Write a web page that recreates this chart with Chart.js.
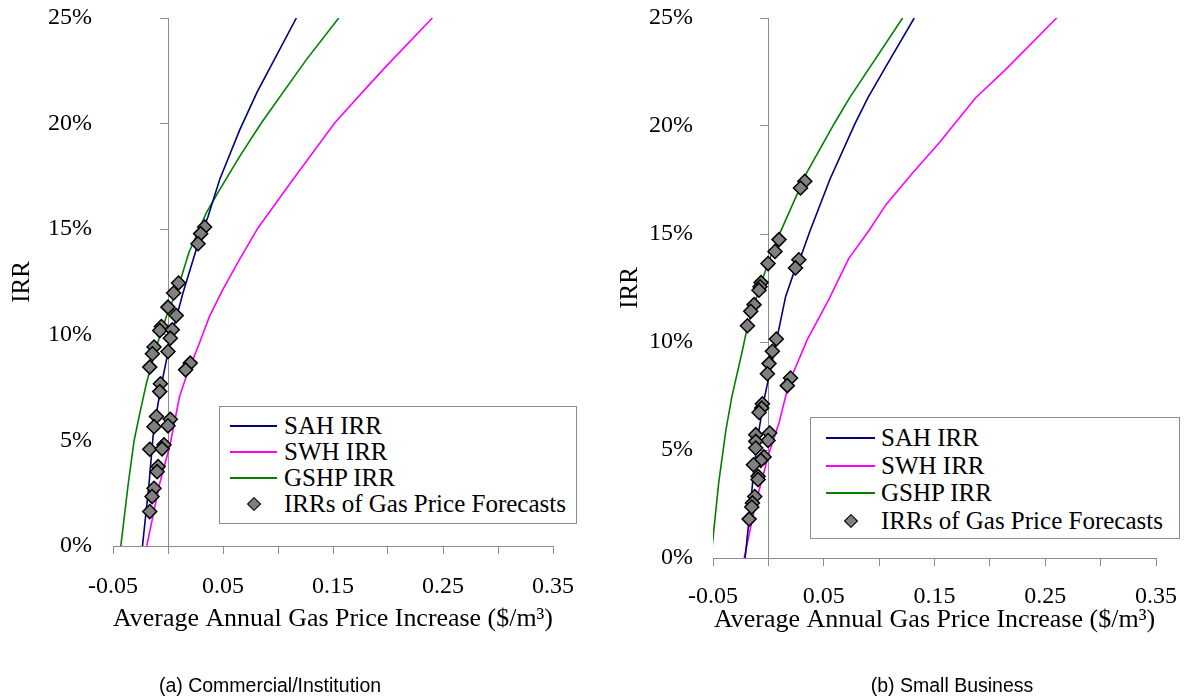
<!DOCTYPE html>
<html>
<head>
<meta charset="utf-8">
<title>IRR vs gas price increase</title>
<script src="https://cdn.jsdelivr.net/npm/chart.js@4.4.1/dist/chart.umd.min.js"></script>
<style>
  html, body { margin: 0; padding: 0; background: #fff; }
  #wrap { position: relative; width: 1193px; height: 698px; overflow: hidden; }
  .panel { position: absolute; top: 0; height: 698px; }
  .legend { position: absolute; border: 1px solid #8c8c8c; background: #fff; box-sizing: border-box; }
  .legend .row { position: absolute; left: 0; right: 0; height: 28px; }
  .legend .swatch { position: absolute; top: 13px; height: 2px; }
  .legend .diamond { position: absolute; top: 9px; width: 10px; height: 10px; background: #808080;
                     border: 1.5px solid #000; box-sizing: border-box; transform: rotate(45deg); }
  .legend .txt { position: absolute; top: 0; line-height: 28px; font: 25px "Liberation Serif", "Times New Roman", serif; color: #000; white-space: nowrap; }
  .caption { position: absolute; font: 19.5px "Liberation Sans", Arial, sans-serif; color: #000; white-space: nowrap; transform: translateX(-50%); }
</style>
</head>
<body>
<div id="wrap">
  <div class="panel" style="left:0;width:596px"><canvas id="chartA" width="596" height="698"></canvas></div>
  <div class="panel" style="left:596px;width:597px"><canvas id="chartB" width="597" height="698"></canvas></div>
  <div id="legendA" class="legend"></div>
  <div id="legendB" class="legend"></div>
  <div class="caption" style="left:270px;top:674px">(a) Commercial/Institution</div>
  <div class="caption" style="left:952px;top:674px">(b) Small Business</div>
</div>
<script>
// points are [average annual gas price increase ($/m³), IRR %]

// (a) Commercial/Institution
const sahA  = [[-0.0232,0],[-0.0172,2.97],[-0.0136,5.18],[-0.009,6.76],[-0.0045,8.02],[0.003,9.92],[0.0136,11.98],
               [0.0256,14.03],[0.0364,15.6],[0.047,17.35],[0.0652,19.7],[0.0809,21.48],[0.1167,25]];
const swhA  = [[-0.0193,0],[-0.0075,2.97],[0.0015,4.71],[0.0105,7.08],[0.0166,8.02],[0.0286,9.61],[0.0377,10.87],
               [0.0497,12.13],[0.0648,13.55],[0.0818,15.06],[0.1136,17.35],[0.1515,20.03],[0.1803,21.69],[0.1985,22.72],[0.2403,25]];
const gshpA = [[-0.0429,0],[-0.0361,2.97],[-0.0307,5.02],[-0.0256,6.29],[-0.0196,7.71],[-0.0105,9.45],[-0.0015,10.87],
               [0.0105,12.45],[0.019,13.9],[0.0348,15.77],[0.047,16.87],[0.0652,18.45],[0.0848,20.03],[0.1258,23.03],[0.1552,25]];
const fcA   = [[0.0333,15.1],[0.0297,14.79],[0.0273,14.31],[0.0096,12.45],[0.0051,11.98],[0,11.31],[0.0075,10.91],
               [-0.006,10.39],[-0.0075,10.2],[0.0039,10.24],[0.0021,9.84],[-0.0127,9.42],[-0.0142,9.1],[0,9.21],
               [-0.0166,8.47],[0.0202,8.66],[0.016,8.34],[-0.0069,7.68],[-0.0075,7.31],[-0.0105,6.13],[-0.0127,5.65],
               [0.0021,6.0],[0,5.69],[-0.0166,4.58],[-0.0036,4.79],[-0.0054,4.6],[-0.009,3.76],[-0.0099,3.52],
               [-0.0127,2.73],[-0.0145,2.34],[-0.0166,1.63]];

// (b) Small Business
const sahB  = [[-0.021,0],[-0.0159,2.55],[-0.0129,4.24],[-0.0084,5.94],[-0.0039,7.33],[0.0006,8.41],[0.0081,10.26],
               [0.0156,12.11],[0.0245,13.43],[0.0303,14.1],[0.0374,15.12],[0.0554,17.51],[0.0778,20.06],[0.0898,21.3],
               [0.1062,22.76],[0.1317,25]];
const swhB  = [[-0.0218,0],[-0.0114,2.55],[0.0006,4.86],[0.0096,6.25],[0.0186,8.1],[0.035,10.1],[0.0545,11.96],
               [0.0724,13.85],[0.0913,15.2],[0.1062,16.36],[0.1302,17.82],[0.1541,19.21],[0.187,21.3],[0.2139,22.6],[0.2603,25]];
const gshpB = [[-0.0518,0],[-0.0449,3.47],[-0.0383,5.94],[-0.0329,7.48],[-0.0233,9.64],[-0.0189,10.72],[-0.0114,11.96],
               [-0.0024,13.35],[0.003,14.1],[0.0105,15.05],[0.0344,17.82],[0.0598,20.14],[0.0733,21.3],[0.1212,25]];
const fcB   = [[0.0329,17.44],[0.029,17.13],[0.0096,14.74],[0.006,14.19],[-0.0003,13.63],[-0.0066,12.75],[-0.0075,12.56],
               [-0.0085,12.4],[-0.0129,11.73],[-0.0159,11.42],[-0.0189,10.75],[0.0275,13.81],[0.0245,13.43],[0.0072,10.14],
               [0.0036,9.57],[0.0006,9.0],[-0.0009,8.53],[0.02,8.33],[0.0171,7.98],[-0.0054,7.14],[-0.006,6.94],
               [-0.0084,6.74],[-0.0114,5.71],[0.0012,5.79],[-0.0003,5.44],[-0.0114,5.4],[-0.0114,5.09],[-0.0039,4.68],
               [-0.0069,4.52],[-0.0135,4.32],[-0.0093,3.78],[-0.0093,3.63],[-0.0123,2.85],[-0.0144,2.55],[-0.015,2.36],
               [-0.0174,1.8]];

const seriesNames = ['SAH IRR', 'SWH IRR', 'GSHP IRR', 'IRRs of Gas Price Forecasts'];
const xMin = -0.05, xMax = 0.35, xStep = 0.05;
const yMin = 0, yMax = 25, yStep = 5;
const xTitle = 'Average Annual Gas Price Increase ($/m\u00B3)';
const yTitle = 'IRR';

const C = { sah: '#000080', swh: '#ff00ff', gshp: '#008000', marker: '#808080', axis: '#8c8c8c', ink: '#000' };
const SERIF = '"Liberation Serif", "Times New Roman", serif';

// each panel has its own plot box
// yLabelGap: space between the % labels and the plot (hidden tick length, so it doesn't pad the top)
const geomA = { padRight: 43, padTop: 18, yAxisW: 113, xAxisH: 152, yLabelGap: 21, yTitlePad: 7, xTickPad: 18, xTitlePad: 63 };
const geomB = { padRight: 35, padTop: 18, yAxisW: 117, xAxisH: 140, yLabelGap: 20, yTitlePad: 19, xTickPad: 16, xTitlePad: 62 };

function toPoints(arr) { return arr.map(([x, y]) => ({ x, y })); }

function lineSet(label, pts, color) {
  return { label, data: toPoints(pts), borderColor: color, backgroundColor: color, borderWidth: 1.6,
           pointRadius: 0, tension: 0, fill: false, yAxisID: 'y', order: 1 };
}

function makeChart(id, s, g) {
  return new Chart(document.getElementById(id), {
    type: 'line',
    data: {
      datasets: [
        { label: seriesNames[3], data: toPoints(s.fc), showLine: false, pointStyle: 'rectRot', pointRadius: 7,
          pointBackgroundColor: C.marker, pointBorderColor: C.ink, pointBorderWidth: 1.5, yAxisID: 'y', order: 0 },
        lineSet(seriesNames[0], s.sah, C.sah),
        lineSet(seriesNames[1], s.swh, C.swh),
        lineSet(seriesNames[2], s.gshp, C.gshp)
      ]
    },
    options: {
      responsive: false,
      animation: false,
      events: [],
      layout: { padding: { left: 0, right: g.padRight, top: g.padTop, bottom: 0 } },
      plugins: { legend: { display: false }, tooltip: { enabled: false } },
      scales: {
        x: {
          type: 'linear', position: 'bottom', min: xMin, max: xMax,
          ticks: { stepSize: xStep, autoSkip: false, maxRotation: 0, color: C.ink, padding: g.xTickPad,
                   font: { family: SERIF, size: 24 },
                   callback: (v, i) => (i % 2 === 0 ? v.toFixed(2) : '') },
          grid: { drawOnChartArea: false, color: C.axis, tickLength: 8 },
          border: { color: C.axis, width: 1 },
          title: { display: true, text: xTitle, color: C.ink, font: { family: SERIF, size: 26 },
                   padding: { top: 0, bottom: g.xTitlePad } },
          afterFit: (sc) => { sc.height = g.xAxisH; }
        },
        y: {
          position: 'left', min: yMin, max: yMax,
          ticks: { stepSize: yStep, color: C.ink, padding: 0, font: { family: SERIF, size: 24 },
                   callback: (v) => v + '%' },
          grid: { display: false, drawTicks: true, tickLength: g.yLabelGap },
          border: { display: false },
          title: { display: true, text: yTitle, color: C.ink, font: { family: SERIF, size: 25 },
                   padding: { top: g.yTitlePad, bottom: 0 } },
          afterFit: (sc) => { sc.width = g.yAxisW; }
        },
        // vertical axis line drawn where the increase is zero
        yZero: {
          position: { x: 0 }, min: yMin, max: yMax,
          ticks: { display: false, stepSize: yStep },
          grid: { drawOnChartArea: false, color: C.axis, tickLength: 8 },
          border: { color: C.axis, width: 1 }
        }
      }
    }
  });
}

function buildLegend(id, box) {
  const el = document.getElementById(id);
  Object.assign(el.style, { left: box.left + 'px', top: box.top + 'px', width: box.width + 'px', height: box.height + 'px' });
  const colors = [C.sah, C.swh, C.gshp, null];
  el.innerHTML = seriesNames.map((name, i) => {
    const mark = colors[i]
      ? `<span class="swatch" style="left:${box.swatchX}px;width:${box.swatchW}px;background:${colors[i]}"></span>`
      : `<span class="diamond" style="left:${box.diamondX - 5}px"></span>`;
    return `<div class="row" style="top:${box.rows[i] - 14}px">${mark}<span class="txt" style="left:${box.textX}px">${name}</span></div>`;
  }).join('');
}

makeChart('chartA', { sah: sahA, swh: swhA, gshp: gshpA, fc: fcA }, geomA);
makeChart('chartB', { sah: sahB, swh: swhB, gshp: gshpB, fc: fcB }, geomB);

buildLegend('legendA', { left: 219, top: 406, width: 358, height: 118, rows: [19, 45, 71, 97],
                         swatchX: 10, swatchW: 47, diamondX: 34, textX: 64 });
buildLegend('legendB', { left: 810, top: 417, width: 370, height: 122, rows: [20, 48, 75, 103],
                         swatchX: 15, swatchW: 49, diamondX: 40, textX: 70 });
</script>
</body>
</html>
